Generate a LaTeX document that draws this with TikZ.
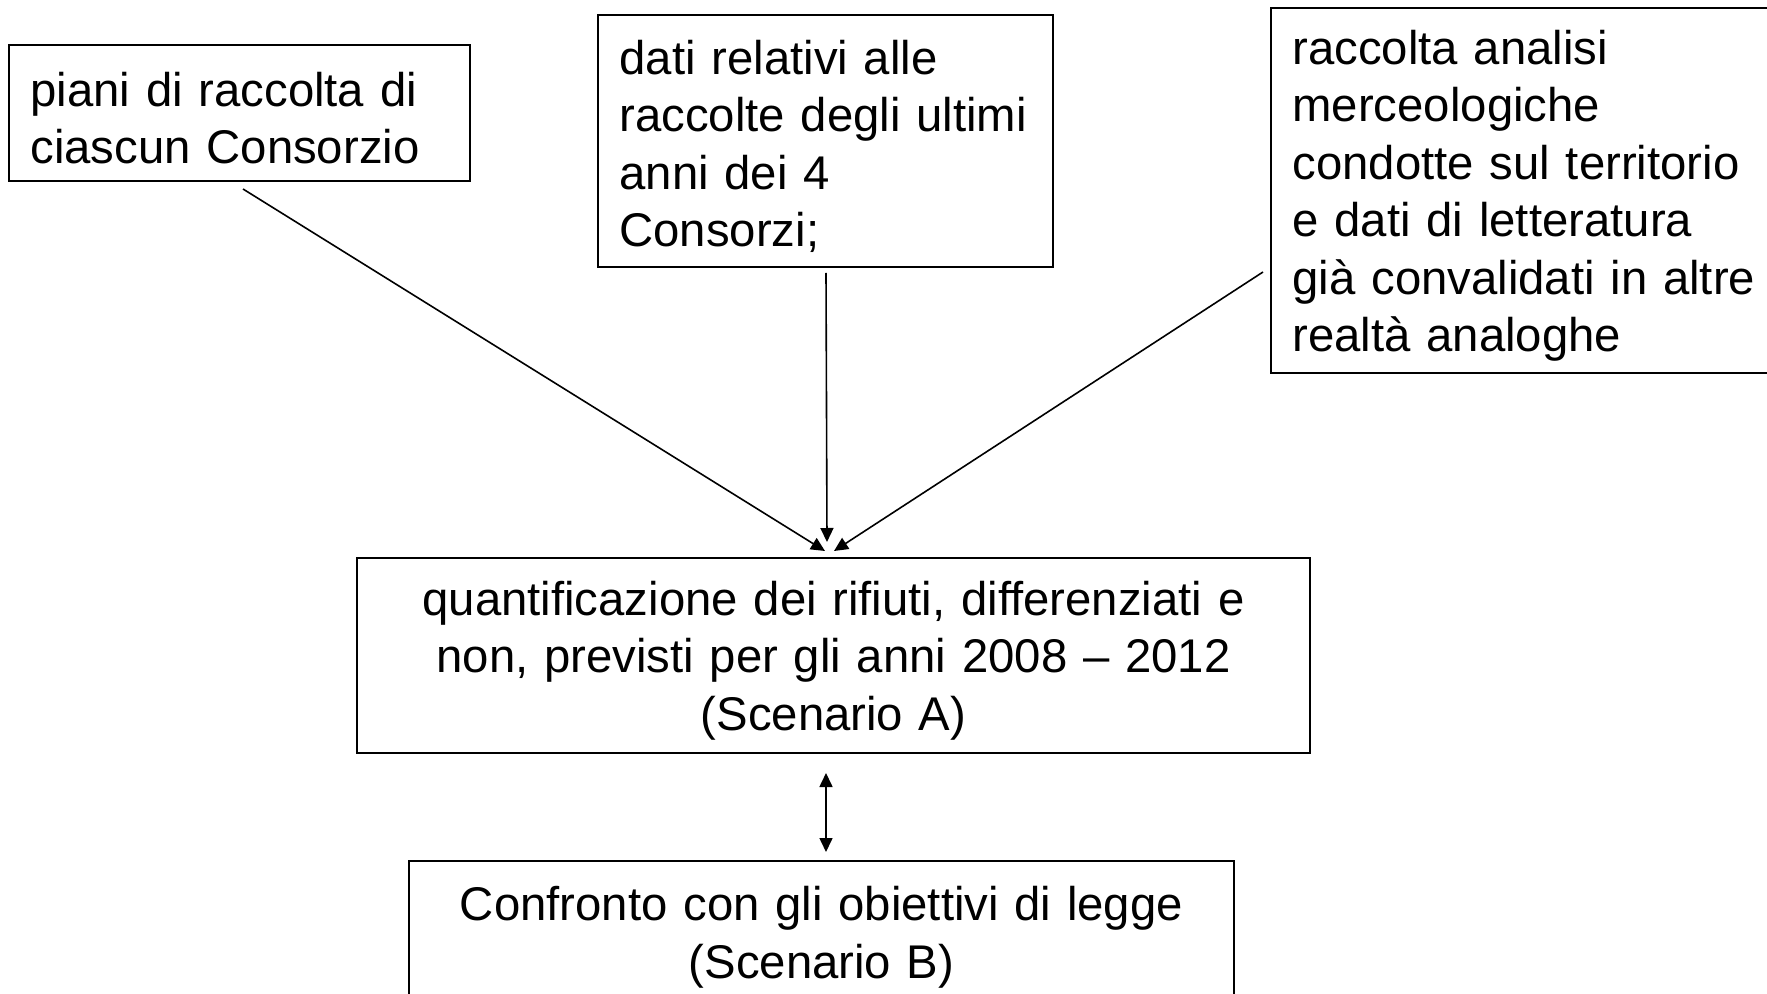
\documentclass[tikz,border=0pt]{standalone}
\usepackage{fontspec}
\setmainfont{Liberation Sans}
\usetikzlibrary{arrows.meta}
\begin{document}
\begin{tikzpicture}[x=0.5pt,y=-0.5pt,
  box/.style={draw=black,line width=1pt,inner xsep=10.75pt,inner ysep=0pt,
    font=\fontsize{23.65}{28.75}\selectfont,anchor=center,
    execute at begin node={\rule{0pt}{22.3pt}}},
  lbox/.style={box,align=left},
  cbox/.style={box,align=center},
  arr/.style={line width=0.8pt,-{Triangle[length=7pt,width=6.5pt]}},
  darr/.style={line width=0.8pt,{Triangle[length=7pt,width=6.5pt]}-{Triangle[length=7pt,width=6.5pt]}}]
\useasboundingbox (0,0) rectangle (1767,994);
\clip (0,0) rectangle (1767,994);
\fill[white] (0,0) rectangle (1767,994);
\node[lbox,text width=209pt,minimum width=230.5pt,minimum height=68pt] (b1) at (239.5,113)
  {piani di raccolta di\\ciascun Consorzio};
\node[lbox,text width=206pt,minimum width=227.5pt,minimum height=126pt] (b2) at (825.5,141)
  {dati relativi alle\\raccolte degli ultimi\\anni dei 4\\Consorzi;};
\node[lbox,text width=238pt,minimum width=259.5pt,minimum height=182.5pt] (b3) at (1530.5,190.5)
  {raccolta analisi\\merceologiche\\condotte sul territorio\\e dati di letteratura\\già convalidati in altre\\realtà analoghe};
\node[cbox,text width=455pt,minimum width=476.5pt,minimum height=97.5pt] (b4) at (833.5,655.5)
  {quantificazione dei rifiuti, differenziati e\\non, previsti per gli anni 2008 -- 2012\\(Scenario A)};
\node[cbox,text width=391pt,minimum width=412.5pt,minimum height=71pt] (b5) at (821.5,932)
  {Confronto con gli obiettivi di legge\\(Scenario B)};
\draw[arr] ([shift={(3.5,7)}]b1.south) -- ([shift={(-8.5,-6)}]b4.north);
\draw[arr] ([shift={(0.5,5)}]b2.south) -- ([shift={(-6.5,-15)}]b4.north);
\draw[arr] ([shift={(-7,81.5)}]b3.west) -- ([shift={(0.5,-6)}]b4.north);
\draw[darr] ([shift={(-7.5,19)}]b4.south) -- ([shift={(4.5,-8)}]b5.north);
\end{tikzpicture}
\end{document}
